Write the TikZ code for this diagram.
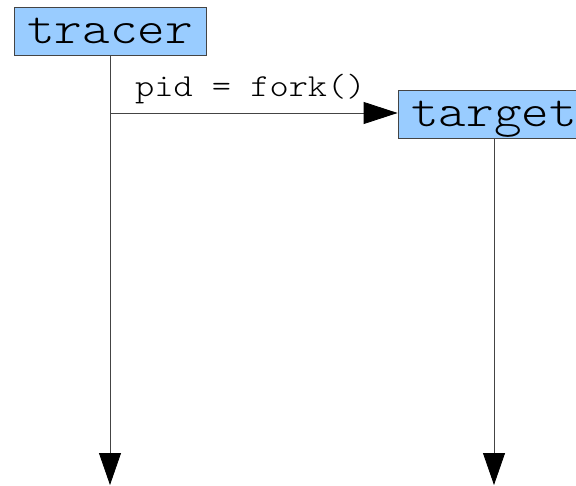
\documentclass[tikz,border=0pt]{standalone}
\usepackage{fontspec}
% thin typewriter face, widened to a 0.6em advance
\newfontfamily\courface[FakeStretch=1.143]{Latin Modern Mono Light}
\usetikzlibrary{arrows.meta}
\definecolor{boxblue}{HTML}{99CCFF}
\definecolor{linegray}{HTML}{444444}
\tikzset{
  actor/.style={draw=linegray, line width=0.8pt, fill=boxblue, rectangle,
    minimum width=192pt, minimum height=48pt, inner sep=0pt,
    text height=25pt, text depth=0pt,
    font=\fontsize{46}{46}\selectfont\courface},
  lifeline/.style={draw=linegray, line width=0.8pt,
    -{Triangle[length=32pt, width=22pt, black]}},
  msg/.style={draw=linegray, line width=0.8pt,
    -{Triangle[length=34pt, width=22pt, black]}},
  msglabel/.style={inner sep=0pt, font=\fontsize{32}{32}\selectfont\courface}
}
\begin{document}
\begin{tikzpicture}[x=1pt, y=1pt]
  \useasboundingbox (0,0) rectangle (576,-486);
  \clip (0,0) rectangle (576,-486);
  % participants
  \node[actor] (tracer) at (110,-31) {tracer};
  \node[actor] (target) at (494,-114) {target};
  % lifeline ends and message start
  \coordinate (tracerEnd) at (110,-485);
  \coordinate (targetEnd) at (494,-485);
  \coordinate (forkStart) at (110,-113);
  % lifelines
  \draw[lifeline] (tracer.south) -- (tracerEnd);
  \draw[lifeline] (target.south) -- (targetEnd);
  % fork message
  \draw[msg] (forkStart) -- (target.west |- forkStart);
  \node[msglabel, anchor=base west] (forkLabel) at (135,-97) {pid = fork()};
\end{tikzpicture}
\end{document}
